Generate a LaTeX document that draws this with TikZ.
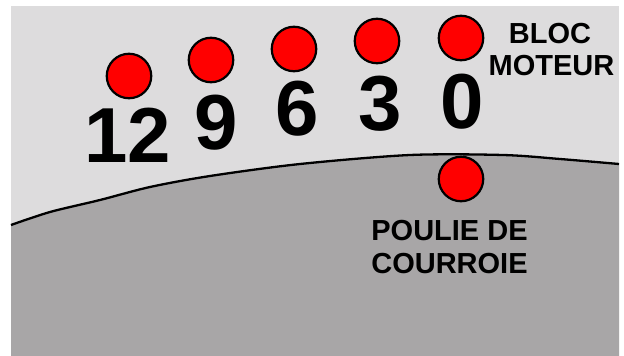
\documentclass[tikz,border=0pt]{standalone}
\usepackage{fontspec}
\setmainfont{Liberation Sans}
\definecolor{bglight}{RGB}{221,220,221}
\definecolor{bgdark}{RGB}{168,166,167}
\definecolor{dotred}{RGB}{255,0,0}
\begin{document}
\begin{tikzpicture}[x=1pt,y=-1pt,
  dot/.style={circle,draw=black,line width=2.2pt,fill=dotred,minimum size=44.5pt,inner sep=0pt},
  num/.style={inner sep=0pt,anchor=base,font=\fontsize{78}{78}\selectfont\bfseries},
  lbl/.style={inner sep=0pt,anchor=base,font=\fontsize{29}{29}\selectfont\bfseries}]
\useasboundingbox (0,0) rectangle (624,356);
\fill[white] (0,0) rectangle (624,356);
\fill[bglight] (11,6) rectangle (619,356);
\fill[bgdark] plot[smooth,tension=0.5] coordinates {(11,225) (50,212) (100,200) (150,187) (210,176) (300,164) (410,155) (503,155) (560,159) (619,164)} -- (619,356) -- (11,356) -- cycle;
\draw[line width=2.3pt,line cap=butt] plot[smooth,tension=0.5] coordinates {(11,225) (50,212) (100,200) (150,187) (210,176) (300,164) (410,155) (503,155) (560,159) (619,164)};
\node[dot] (c12) at (129,76) {};
\node[dot] (c9) at (211,60) {};
\node[dot] (c6) at (294,49) {};
\node[dot] (c3) at (377,41) {};
\node[dot] (c0) at (461,38) {};
\node[dot] (cp) at (461,179) {};
\node[num] (n12) at (127.5,162) {12};
\node[num] (n9) at (216.5,149) {9};
\node[num] (n6) at (297,135) {6};
\node[num] (n3) at (380,130) {3};
\node[num] (n0) at (462.5,128) {0};
\node[lbl] (bloc) at (550,43) {BLOC};
\node[lbl] (moteur) at (551.5,75) {MOTEUR};
\node[lbl] (poulie) at (449.5,240) {POULIE DE};
\node[lbl] (courroie) at (449.5,273) {COURROIE};
\end{tikzpicture}
\end{document}
